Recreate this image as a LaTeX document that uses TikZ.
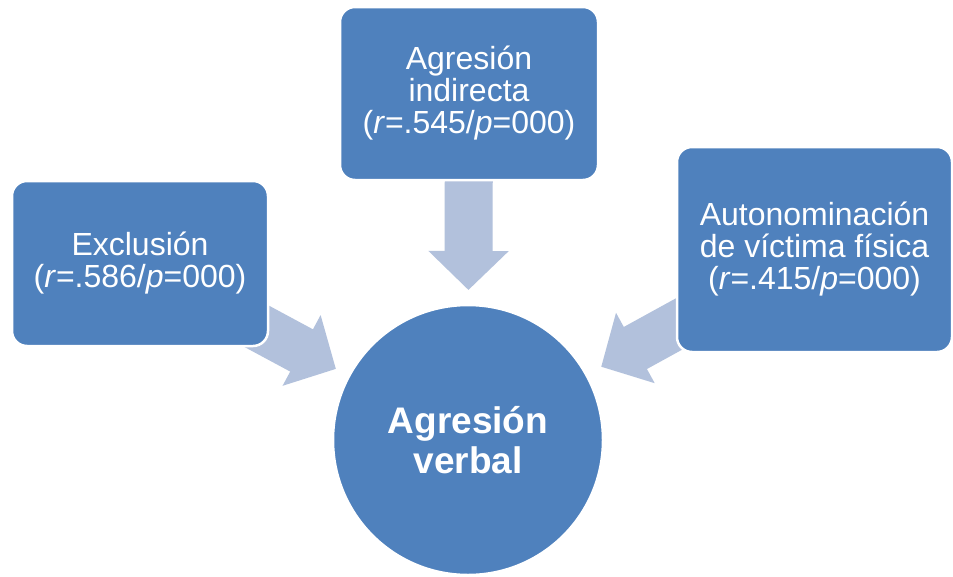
\documentclass[tikz,border=0pt]{standalone}
\usepackage{fontspec}
\setmainfont{Liberation Sans}
\usetikzlibrary{arrows.meta,backgrounds,calc}
\definecolor{boxblue}{HTML}{4F81BD}
\definecolor{flowblue}{HTML}{B2C1DC}
\begin{document}
\begin{tikzpicture}[x=1pt,y=-1pt,
  box/.style={rectangle, rounded corners=15pt, fill=boxblue, draw=white,
    line width=2.5pt, text=white, align=center, inner sep=0pt,
    font=\fontsize{32}{32}\selectfont},
  hub/.style={circle, fill=boxblue, draw=white, line width=2.5pt,
    text=white, align=center, minimum size=270pt, inner sep=0pt,
    font=\bfseries\fontsize{37}{40}\selectfont},
  flow/.style={draw=flowblue, line width=48pt,
    -{Triangle[length=39pt 0 1, width=78pt 0 1, fill=flowblue]}}]
\useasboundingbox (0,0) rectangle (953,576);

% source boxes
\node[box, minimum width=256pt, minimum height=165pt] (excl) at (140,263.5)
  {Exclusión\\(\textit{r}=.586/\textit{p}=000)};
\node[box, minimum width=258pt, minimum height=173pt] (indir) at (469,93.5)
  {Agresión\\indirecta\\(\textit{r}=.545/\textit{p}=000)};
\node[box, minimum width=275pt, minimum height=205pt] (autonom) at (814.5,249.5)
  {Autonominación\\de víctima física\\(\textit{r}=.415/\textit{p}=000)};

% central circle
\node[hub] (verb) at (468,440) {Agresión\\verbal};

% arrow tips, just short of the circle
\coordinate (tipL) at ($(verb.center)!150pt!(excl.center)$);
\coordinate (tipT) at ($(verb.center)!150pt!(indir.center)$);
\coordinate (tipR) at ($(verb.center)!152pt!(autonom.center)$);

% white page, then the block arrows, all behind the shapes
\begin{scope}[on background layer]
  \fill[white] (0,0) rectangle (953,576);
  \draw[flow] (excl.center) -- (tipL);
  \draw[flow] (indir.center) -- (tipT);
  \draw[flow] (autonom.center) -- (tipR);
\end{scope}
\end{tikzpicture}
\end{document}
